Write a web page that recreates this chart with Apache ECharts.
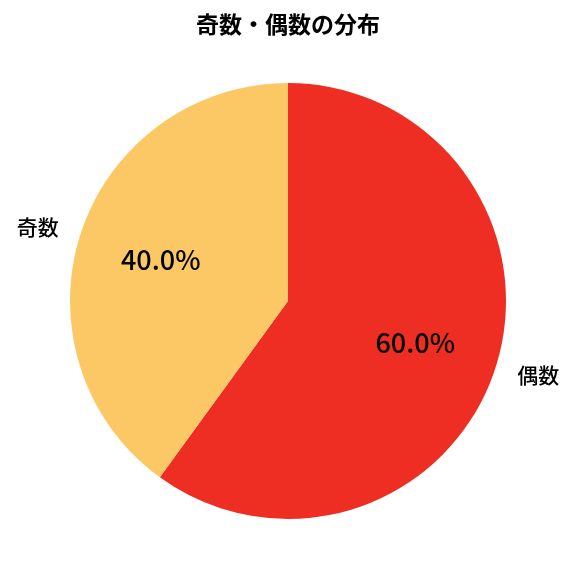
<!DOCTYPE html>
<html><head><meta charset="utf-8">
<script src="https://cdn.jsdelivr.net/npm/echarts@6/dist/echarts.min.js"></script>
<style>html,body{margin:0;padding:0;background:#fff}#c{width:576px;height:576px}</style>
</head><body><div id="c"></div>
<script>
const titleText = '奇数・偶数の分布';
const categories = ['偶数', '奇数'];
const values = [60, 40];
const colors = ['#EE2E22', '#FCC865'];

const FONT = '"Noto Sans CJK JP", "Noto Sans", sans-serif';
const chart = echarts.init(document.getElementById('c'), null, {renderer: 'canvas'});
const R = 218;
const center = [288, 301];
const total = values.reduce((a, b) => a + b, 0);
const data = categories.map((c, i) => ({name: c, value: values[i], itemStyle: {color: colors[i]}}));

chart.setOption({
  animation: false,
  backgroundColor: '#fff',
  title: {
    text: titleText, left: 'center', top: 8,
    textStyle: {fontFamily: FONT, fontSize: 23, fontWeight: 'bold', color: '#000'}
  },
  series: [
    {
      type: 'pie', center: center, radius: [0, R], startAngle: 90, clockwise: true,
      silent: true,
      data: data,
      label: {
        show: true, position: 'outside', fontFamily: FONT, fontSize: 21, fontWeight: 500, color: '#000',
        formatter: '{b}', distanceToLabelLine: 0, padding: [0, 0, 4, 0]
      },
      labelLine: {show: false, length: 23, length2: 0},
      itemStyle: {borderWidth: 0}
    },
    {
      type: 'pie', center: center, radius: [0.2 * R, R], startAngle: 90, clockwise: true,
      silent: true,
      data: categories.map((c, i) => ({name: c, value: values[i], itemStyle: {color: 'rgba(0,0,0,0)'}})),
      label: {
        show: true, position: 'inside', fontFamily: FONT, fontSize: 27, fontWeight: 500, color: '#000',
        formatter: p => (p.value / total * 100).toFixed(1) + '%', padding: [0, 0, 4, 0]
      },
      labelLine: {show: false},
      itemStyle: {borderWidth: 0}
    }
  ]
});
</script></body></html>
